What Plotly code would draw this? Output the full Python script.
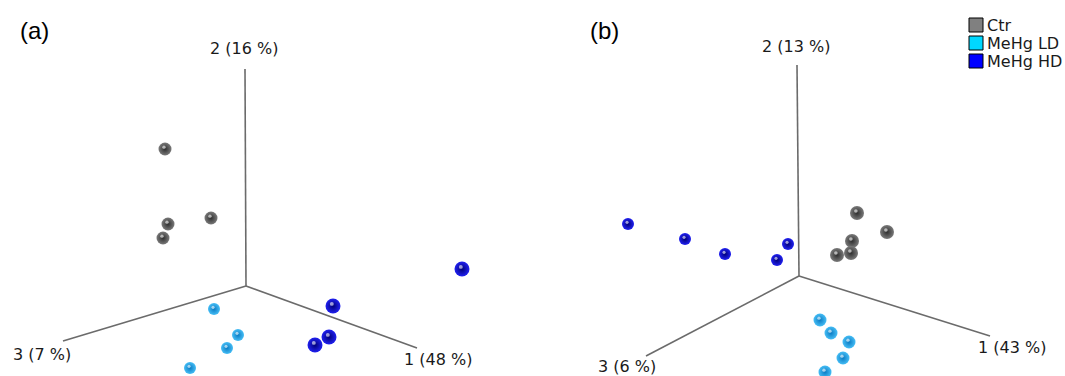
import plotly.graph_objects as go

# ---- data (projected PCA score positions, in px) ----
a_ctr_x = [165, 211, 168, 163]
a_ctr_y = [149, 218, 224, 238]
a_ld_x = [214, 238, 227, 190]
a_ld_y = [309, 335, 348, 368]
a_hd_x = [462, 333, 329, 315]
a_hd_y = [269, 306, 337, 345]

b_ctr_x = [857, 887, 852, 851, 837]
b_ctr_y = [213, 232, 241, 253, 255]
b_ld_x = [820, 831, 849, 843, 825]
b_ld_y = [320, 333, 342, 358, 372]
b_hd_x = [628, 685, 725, 788, 777]
b_hd_y = [224, 239, 254, 244, 260]

# axis frames: origin, axis-2 top, axis-1 end, axis-3 end
a_axes_x = [246, 245, 417, 63]
a_axes_y = [286, 69, 348, 341]
b_axes_x = [799, 797, 990, 646]
b_axes_y = [276, 65, 336, 356]

a_axis_labels = ["1 (48 %)", "2 (16 %)", "3 (7 %)"]
b_axis_labels = ["1 (43 %)", "2 (13 %)", "3 (6 %)"]
a_label_pos = [(438, 359), (244, 48), (42, 354)]
b_label_pos = [(1012, 347), (796, 46), (627, 366)]

groups = ["Ctr", "MeHg LD", "MeHg HD"]
legend_colors = ["#808080", "#00d8ff", "#0000ff"]

sphere_center = {"Ctr": "#7a7a7a", "MeHg LD": "#45bdf5", "MeHg HD": "#2020f0"}
sphere_edge = {"Ctr": "#2e2e2e", "MeHg LD": "#0b7cc4", "MeHg HD": "#00007a"}

fig = go.Figure()

AXIS_COLOR = "#6b6b6b"


def add_axes(ax_x, ax_y):
    ox, oy = ax_x[0], ax_y[0]
    xs, ys = [], []
    for i in range(1, 4):
        xs += [ox, ax_x[i], None]
        ys += [oy, ax_y[i], None]
    fig.add_trace(go.Scatter(x=xs, y=ys, mode="lines",
                             line=dict(color=AXIS_COLOR, width=1.6),
                             hoverinfo="skip", showlegend=False))


def add_points(xs, ys, grp, size):
    fig.add_trace(go.Scatter(
        x=xs, y=ys, mode="markers", name=grp, showlegend=False,
        marker=dict(size=size, color=sphere_center[grp],
                    gradient=dict(type="radial", color=sphere_edge[grp]),
                    line=dict(width=0))))
    # specular highlight on each sphere
    fig.add_trace(go.Scatter(
        x=[v - size * 0.08 for v in xs], y=[v - size * 0.14 for v in ys],
        mode="markers", hoverinfo="skip", showlegend=False,
        marker=dict(size=max(3, size * 0.26), color="rgba(255,255,255,0.6)",
                    line=dict(width=0))))


add_axes(a_axes_x, a_axes_y)
add_axes(b_axes_x, b_axes_y)

add_points(a_ctr_x, a_ctr_y, "Ctr", 13)
add_points(a_ld_x, a_ld_y, "MeHg LD", 12)
add_points(a_hd_x, a_hd_y, "MeHg HD", 15)
add_points(b_ctr_x, b_ctr_y, "Ctr", 14)
add_points(b_ld_x, b_ld_y, "MeHg LD", 13)
add_points(b_hd_x, b_hd_y, "MeHg HD", 12)

annotations = []
for labels, pos in ((a_axis_labels, a_label_pos), (b_axis_labels, b_label_pos)):
    for txt, (px, py) in zip(labels, pos):
        annotations.append(dict(x=px, y=py, text=txt, showarrow=False,
                                xanchor="center", yanchor="middle",
                                font=dict(family="DejaVu Sans", size=16, color="#1a1a1a")))

annotations.append(dict(x=34, y=30, text="(a)", showarrow=False, xanchor="center",
                        yanchor="middle", font=dict(family="Liberation Sans", size=24, color="#000")))
annotations.append(dict(x=604, y=30, text="(b)", showarrow=False, xanchor="center",
                        yanchor="middle", font=dict(family="Liberation Sans", size=24, color="#000")))

# legend (manual)
shapes = []
leg_x0, leg_y0, leg_dy, sq = 969, 25, 18, 14
for i, (g, c) in enumerate(zip(groups, legend_colors)):
    yc = leg_y0 + i * leg_dy
    shapes.append(dict(type="rect", xref="x", yref="y",
                       x0=leg_x0, x1=leg_x0 + sq, y0=yc - sq / 2, y1=yc + sq / 2,
                       fillcolor=c, line=dict(color="#000", width=1)))
    annotations.append(dict(x=leg_x0 + sq + 2, y=yc, text=g, showarrow=False,
                            xanchor="left", yanchor="middle",
                            font=dict(family="DejaVu Sans", size=16, color="#1a1a1a")))

fig.update_layout(
    width=1065, height=376,
    margin=dict(l=0, r=0, t=0, b=0),
    paper_bgcolor="white", plot_bgcolor="white",
    xaxis=dict(range=[0, 1065], visible=False, fixedrange=True),
    yaxis=dict(range=[376, 0], visible=False, fixedrange=True),
    annotations=annotations, shapes=shapes,
    showlegend=False,
)

fig.write_html("out.html", config={"displayModeBar": False},
               post_script="document.body.style.margin='0';document.body.style.overflow='hidden';")
